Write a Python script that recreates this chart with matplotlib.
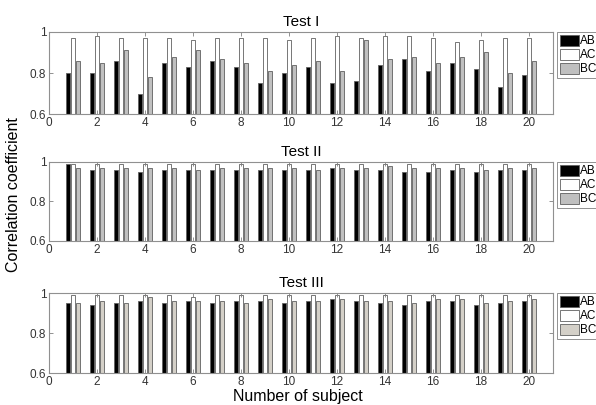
import numpy as np
import matplotlib
matplotlib.use("Agg")
import matplotlib.pyplot as plt

plt.rcParams['font.family'] = ['Liberation Sans', 'DejaVu Sans']

subjects = np.arange(1, 21)

# Test I
ab_1 = [0.80, 0.80, 0.86, 0.70, 0.85, 0.83, 0.86, 0.83, 0.75, 0.80,
        0.83, 0.75, 0.76, 0.84, 0.87, 0.81, 0.85, 0.82, 0.73, 0.79]
ac_1 = [0.97, 0.98, 0.97, 0.97, 0.97, 0.96, 0.97, 0.97, 0.97, 0.96,
        0.97, 0.98, 0.97, 0.98, 0.98, 0.97, 0.95, 0.96, 0.97, 0.97]
bc_1 = [0.86, 0.85, 0.91, 0.78, 0.88, 0.91, 0.87, 0.85, 0.81, 0.84,
        0.86, 0.81, 0.96, 0.87, 0.88, 0.85, 0.88, 0.90, 0.80, 0.86]

# Test II
ab_2 = [0.99, 0.96, 0.96, 0.95, 0.96, 0.96, 0.96, 0.96, 0.96, 0.96,
        0.96, 0.97, 0.96, 0.96, 0.95, 0.95, 0.96, 0.95, 0.96, 0.96]
ac_2 = [0.99] * 20
bc_2 = [0.97, 0.97, 0.97, 0.97, 0.97, 0.96, 0.97, 0.97, 0.97, 0.97,
        0.96, 0.97, 0.97, 0.98, 0.97, 0.97, 0.97, 0.96, 0.97, 0.97]

# Test III
ab_3 = [0.95, 0.94, 0.95, 0.96, 0.95, 0.96, 0.95, 0.96, 0.96, 0.95,
        0.96, 0.97, 0.96, 0.95, 0.94, 0.96, 0.96, 0.94, 0.95, 0.96]
ac_3 = [0.99, 0.99, 0.99, 0.99, 0.99, 0.98, 0.99, 0.99, 0.99, 0.99,
        0.99, 0.99, 0.99, 0.99, 0.99, 0.99, 0.99, 0.99, 0.99, 0.99]
bc_3 = [0.95, 0.96, 0.95, 0.98, 0.96, 0.96, 0.96, 0.95, 0.97, 0.96,
        0.96, 0.97, 0.96, 0.96, 0.95, 0.97, 0.97, 0.95, 0.96, 0.97]

titles = ["Test I", "Test II", "Test III"]
series = [(ab_1, ac_1, bc_1), (ab_2, ac_2, bc_2), (ab_3, ac_3, bc_3)]
bc_colors = ["#c0c0c0", "#c0c0c0", "#d4d0c8"]

fig = plt.figure(figsize=(5.96, 4.05), dpi=100)
left, width = 0.0822, 0.8456
rows = [(0.7185, 0.2025), (0.405, 0.195), (0.079, 0.1975)]

edge = "#606060"
for i, (bottom, height) in enumerate(rows):
    ax = fig.add_axes([left, bottom, width, height])
    ab, ac, bc = series[i]
    w = 0.17  # bar width
    off = 0.22  # group offset
    ax.bar(subjects - off, ab, w, color="black", edgecolor=edge, linewidth=0.6, label="AB")
    ax.bar(subjects, ac, w, color="white", edgecolor=edge, linewidth=0.6, label="AC")
    ax.bar(subjects + off, bc, w, color=bc_colors[i], edgecolor=edge, linewidth=0.6, label="BC")
    ax.set_xlim(0, 21)
    ax.set_ylim(0.6, 1.0)
    ax.set_yticks([0.6, 0.8, 1.0])
    ax.set_yticklabels(["0.6", "0.8", "1"])
    ax.set_xticks(np.arange(0, 21, 2))
    ax.tick_params(direction="in", top=True, right=True, length=3, width=0.6,
                   colors="#808080", labelcolor="#333333", labelsize=8.5, pad=2)
    for s in ax.spines.values():
        s.set_color("#909090")
        s.set_linewidth(0.8)
    ax.set_title(titles[i], fontsize=11, pad=4)
    leg = ax.legend(loc="upper left", bbox_to_anchor=(1.008, 1.0), fontsize=8.5,
                    handlelength=1.6, handleheight=1.0, handletextpad=0.1,
                    labelspacing=0.15, borderpad=0.25, borderaxespad=0,
                    fancybox=False, framealpha=1)
    leg.get_frame().set_edgecolor("#808080")
    leg.get_frame().set_linewidth(0.6)

fig.text(0.022, 0.52, "Correlation coefficient", rotation=90, ha="center", va="center", fontsize=11.5)
fig.text(0.5, 0.022, "Number of subject", ha="center", va="center", fontsize=11.5)

fig.savefig("out.png", dpi=100)
